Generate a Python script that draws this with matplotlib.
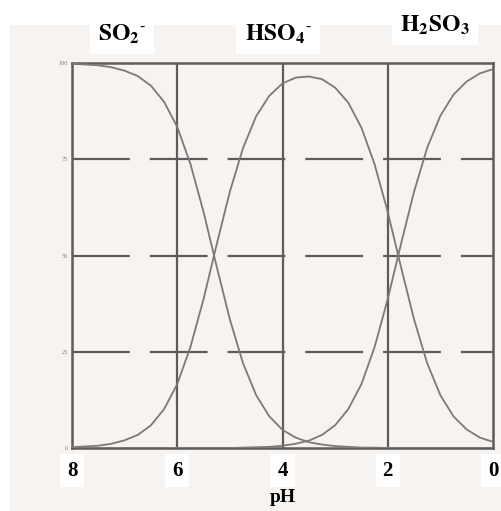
import matplotlib.pyplot as plt
from matplotlib.patches import Rectangle

# fraction (%) of each sulfur species vs pH, read every 0.25 pH unit
ph = [0, 0.25, 0.5, 0.75, 1, 1.25, 1.5, 1.75, 2, 2.25, 2.5, 2.75, 3, 3.25, 3.5, 3.75,
      4, 4.25, 4.5, 4.75, 5, 5.25, 5.5, 5.75, 6, 6.25, 6.5, 6.75, 7, 7.25, 7.5, 7.75, 8]
so3 = [0, 0, 0, 0, 0, 0, 0, 0, 0, 0.1, 0.1, 0.3, 0.5, 0.9, 1.5, 2.7,
       4.7, 8.2, 13.7, 22.0, 33.4, 47.1, 61.3, 73.8, 83.4, 89.9, 94.1, 96.6, 98.0, 98.9, 99.4, 99.6, 99.8]
hso3 = [1.6, 2.7, 4.8, 8.2, 13.7, 22.0, 33.4, 47.1, 61.3, 73.7, 83.2, 89.7, 93.6, 95.8, 96.5, 96.2,
        94.7, 91.5, 86.2, 77.9, 66.6, 52.9, 38.7, 26.2, 16.6, 10.1, 5.9, 3.4, 2.0, 1.1, 0.6, 0.4, 0.2]
h2so3 = [98.4, 97.3, 95.2, 91.8, 86.3, 78.0, 66.6, 52.9, 38.7, 26.2, 16.6, 10.1, 5.9, 3.4, 1.9, 1.1,
         0.6, 0.3, 0.2, 0.1, 0, 0, 0, 0, 0, 0, 0, 0, 0, 0, 0, 0, 0]

x_ticks = [8, 6, 4, 2, 0]
y_ticks = [0, 25, 50, 75, 100]
species = [r"$\mathbf{SO_2}^{\mathbf{\text{-}}}$", r"$\mathbf{HSO_4}^{\mathbf{\text{-}}}$",
           r"$\mathbf{H_2SO_3}$"]

plt.rcParams["mathtext.fontset"] = "stix"
plt.rcParams["font.family"] = "Liberation Serif"

bg = "#f6f3f1"
ink = "#5c5c5c"

fig = plt.figure(figsize=(5.01, 5.11), dpi=100, facecolor="white")
fig.patches.append(Rectangle((10 / 501, 0), 1, 486 / 511, transform=fig.transFigure,
                             facecolor=bg, edgecolor="none", zorder=-10))

ax = fig.add_axes([72 / 501, 63 / 511, 421 / 501, 385 / 511])
ax.set_facecolor(bg)

for vals in (so3, hso3, h2so3):
    ax.plot(ph, vals, color="#7a7a7a", lw=1.3, solid_joinstyle="round", zorder=3)

ax.set_xlim(8, 0)
ax.set_ylim(0, 100)

for y in y_ticks[1:-1]:
    ax.axhline(y, color=ink, lw=1.6, ls=(0, (26, 9)), zorder=1)
for x in x_ticks[1:-1]:
    ax.axvline(x, color=ink, lw=1.6, zorder=1)

for s in ax.spines.values():
    s.set_color(ink)
    s.set_linewidth(1.8)

ax.set_xticks(x_ticks)
ax.set_xticklabels([str(v) for v in x_ticks], fontsize=15, fontweight="bold")
ax.set_yticks(y_ticks)
ax.set_yticklabels([str(v) for v in y_ticks], fontsize=4.5, color="#7a7a7a")
ax.tick_params(axis="x", length=0, pad=9)
ax.tick_params(axis="y", length=0, pad=3)
for lbl in ax.get_xticklabels():
    lbl.set_bbox(dict(facecolor="white", edgecolor="none", pad=5))

fig.text(283 / 501, 1 - 497 / 511, "pH", ha="center", va="center", fontsize=14, fontweight="bold")

# species names across the top
label_x = [122, 278, 435]
label_y = [34, 34, 25]
for name, lx, ly in zip(species, label_x, label_y):
    fig.text(lx / 501, 1 - ly / 511, name, ha="center", va="center", fontsize=17,
             bbox=dict(facecolor="white", edgecolor="none", pad=6))

fig.savefig("out.png", dpi=100, facecolor=fig.get_facecolor())
